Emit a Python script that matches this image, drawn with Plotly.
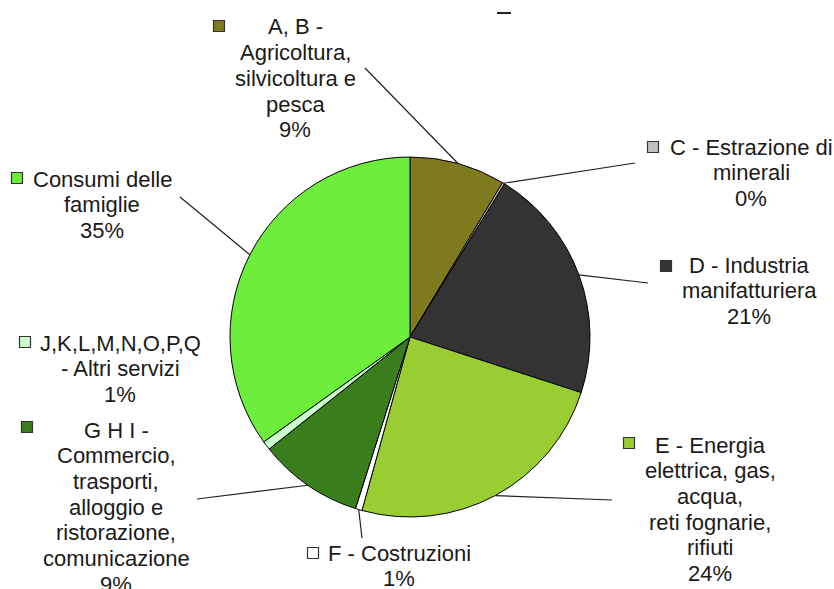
import math
import plotly.graph_objects as go

W, H = 834, 589

labels = ["A, B - Agricoltura, silvicoltura e pesca", "C - Estrazione di minerali",
          "D - Industria manifatturiera",
          "E - Energia elettrica, gas, acqua, reti fognarie, rifiuti",
          "F - Costruzioni", "G H I - Commercio, trasporti, alloggio e ristorazione, comunicazione",
          "J,K,L,M,N,O,P,Q - Altri servizi", "Consumi delle famiglie"]
values = [8.6, 0.2, 21.2, 24.3, 0.6, 9.4, 0.8, 34.9]
pct_text = ["9%", "0%", "21%", "24%", "1%", "9%", "1%", "35%"]
colors = ["#807A1E", "#C0C0C0", "#333333", "#9ACD32", "#FFFFFF", "#3A7D1C", "#CCFFCC", "#6CEE3A"]
label_lines = [
    ["A, B -", "Agricoltura,", "silvicoltura e", "pesca"],
    ["C - Estrazione di", "minerali"],
    ["D - Industria", "manifatturiera"],
    ["E - Energia", "elettrica, gas,", "acqua,", "reti fognarie,", "rifiuti"],
    ["F - Costruzioni"],
    ["G H I -", "Commercio,", "trasporti,", "alloggio e", "ristorazione,", "comunicazione"],
    ["J,K,L,M,N,O,P,Q", "- Altri servizi"],
    ["Consumi delle", "famiglie"],
]

# layout of labels (pixels): text center x, first line y, marker x, marker y, leader end
label_pos = [
    (295, 27, 219, 26, (365, 68)),
    (751, 147, 653, 147, (635, 163)),
    (749, 265, 666, 266, (648, 283)),
    (710, 445, 629, 443, (612, 500)),
    (399, 553, 313, 553, (362, 538)),
    (116, 430, 27, 427, (197, 499)),
    (120, 343, 25, 342, None),
    (102, 179, 17, 178, (180, 197)),
]
LINE_H = 25.7

cx, cy, R = 410, 337, 180


def px(x):
    return x / W


def py(y):
    return 1 - y / H


fig = go.Figure(go.Pie(
    labels=labels, values=values, sort=False, direction="clockwise", rotation=0,
    marker=dict(colors=colors, line=dict(color="#000000", width=1)),
    textinfo="none", hoverinfo="label+percent", showlegend=False,
    domain=dict(x=[px(cx - R), px(cx + R)], y=[py(cy + R), py(cy - R)]),
))

font = dict(family="Liberation Sans, Arial, sans-serif", size=22, color="#1a1a1a")
annotations = []
shapes = []
total = sum(values)
cum = 0
for i, v in enumerate(values):
    mid = (cum + v / 2) / total
    cum += v
    tx, ty, mx, my, lead = label_pos[i]
    lines = label_lines[i] + [pct_text[i]]
    for k, ln in enumerate(lines):
        annotations.append(dict(x=px(tx), y=py(ty + k * LINE_H), xref="paper", yref="paper",
                                text=ln, showarrow=False, font=font,
                                xanchor="center", yanchor="middle"))
    s = 5.5
    shapes.append(dict(type="rect", xref="paper", yref="paper",
                       x0=px(mx - s), x1=px(mx + s), y0=py(my + s), y1=py(my - s),
                       fillcolor=colors[i], line=dict(color="#333333", width=1.2)))
    if lead is not None:
        ang = 2 * math.pi * mid
        ex = cx + R * math.sin(ang)
        ey = cy - R * math.cos(ang)
        shapes.append(dict(type="line", xref="paper", yref="paper",
                           x0=px(lead[0]), y0=py(lead[1]), x1=px(ex), y1=py(ey),
                           line=dict(color="#222222", width=1.2)))

# small dash at the top
shapes.append(dict(type="line", xref="paper", yref="paper",
                   x0=px(497), x1=px(511), y0=py(13), y1=py(13),
                   line=dict(color="#222222", width=2)))

fig.update_layout(width=W, height=H, margin=dict(l=0, r=0, t=0, b=0),
                  paper_bgcolor="white", plot_bgcolor="white",
                  annotations=annotations, shapes=shapes)
# page body has a default 8px margin; drop it so the figure sits at the corner
fig.write_html("out.html", config={"displayModeBar": False},
               post_script="document.body.style.margin='0';")
